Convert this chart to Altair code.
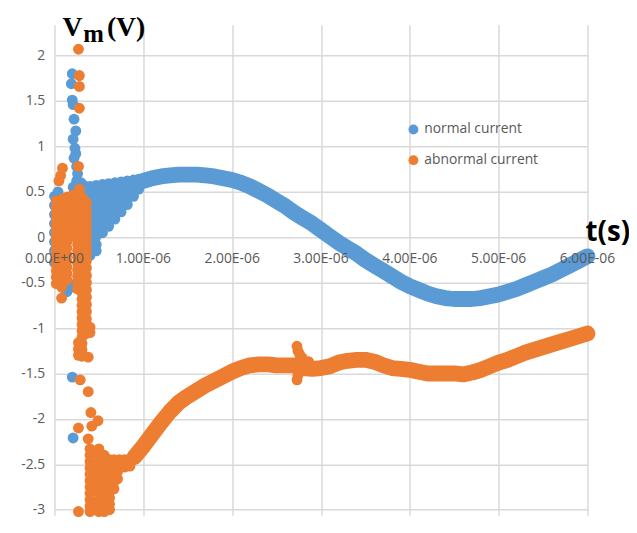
import altair as alt
import pandas as pd

SERIES = ["normal current", "abnormal current"]
COLORS = ["#5B9BD5", "#ED7D31"]

X_TICKS = [0, 1, 2, 3, 4, 5, 6]  # microseconds
X_TICK_LABELS = ["0.00E+00", "1.00E-06", "2.00E-06", "3.00E-06", "4.00E-06", "5.00E-06", "6.00E-06"]
Y_TICKS = [-3, -2.5, -2, -1.5, -1, -0.5, 0, 0.5, 1, 1.5, 2]

# ---- normal current (blue) ----
BLUE_MAIN_T = [1.0, 1.1, 1.2, 1.3, 1.4, 1.5, 1.6, 1.7, 1.8, 1.9, 2.0, 2.1, 2.2, 2.3, 2.4, 2.5, 2.6,
               2.7, 2.8, 2.9, 3.0, 3.1, 3.2, 3.3, 3.4, 3.5, 3.6, 3.7, 3.8, 3.9, 4.0, 4.1, 4.2, 4.3,
               4.4, 4.5, 4.6, 4.7, 4.8, 4.9, 5.0, 5.1, 5.2, 5.3, 5.4, 5.5, 5.6, 5.7, 5.8, 5.9, 6.0]
BLUE_MAIN_V = [0.62, 0.65, 0.67, 0.68, 0.69, 0.69, 0.69, 0.68, 0.67, 0.65, 0.63, 0.60, 0.56, 0.51,
               0.46, 0.40, 0.34, 0.27, 0.21, 0.15, 0.08, 0.01, -0.06, -0.12, -0.18, -0.25, -0.31,
               -0.37, -0.43, -0.49, -0.54, -0.58, -0.62, -0.65, -0.67, -0.68, -0.68, -0.68, -0.67,
               -0.65, -0.63, -0.60, -0.57, -0.53, -0.49, -0.45, -0.41, -0.36, -0.31, -0.26, -0.21]

BLUE_FAN_COLUMNS = [
    (0.33, [0.45, 0.30, 0.15, 0.00, -0.15]),
    (0.40, [0.56, 0.49, 0.42, 0.35, 0.28, 0.21, 0.14, 0.07, 0.00, -0.07, -0.14, -0.20]),
    (0.47, [0.57, 0.50, 0.43, 0.36, 0.29, 0.22, 0.15, 0.08, 0.01, -0.08, -0.15]),
    (0.54, [0.58, 0.51, 0.44, 0.37, 0.30, 0.23, 0.16, 0.09, 0.05]),
    (0.61, [0.59, 0.52, 0.45, 0.38, 0.31, 0.24, 0.17, 0.12]),
    (0.68, [0.60, 0.53, 0.46, 0.39, 0.32, 0.25, 0.20]),
    (0.75, [0.61, 0.54, 0.47, 0.40, 0.33, 0.28]),
    (0.82, [0.62, 0.55, 0.48, 0.42, 0.36]),
    (0.89, [0.63, 0.56, 0.50, 0.45]),
    (0.95, [0.64, 0.58, 0.53]),
]

BLUE_SCATTER_T = [0.20, 0.19, 0.20, 0.21, 0.22, 0.24, 0.21, 0.23, 0.24, 0.22, 0.25, 0.26, 0.25,
                  0.30, 0.28, 0.33, 0.21,
                  0.0, 0.0, 0.0, 0.0, 0.0, 0.0, 0.0, 0.0, 0.04, 0.05, 0.09, 0.14, 0.19, 0.22,
                  0.20, 0.21]
BLUE_SCATTER_V = [1.80, 1.69, 1.51, 1.46, 1.30, 1.17, 1.08, 0.98, 0.92, 0.87, 0.78, 0.70, 0.62,
                  0.60, 0.52, 0.57, 0.55,
                  0.45, 0.35, 0.25, 0.15, 0.05, -0.05, -0.15, -0.28, 0.50, -0.40, -0.55, -0.60,
                  -0.52, -0.55,
                  -1.54, -2.21]

# ---- abnormal current (orange) ----
ORANGE_MAIN_T = [0.9, 1.0, 1.1, 1.2, 1.3, 1.4, 1.5, 1.6, 1.7, 1.8, 1.9, 2.0, 2.1, 2.2, 2.3, 2.4,
                 2.5, 2.6, 2.7, 2.8, 2.9, 3.0, 3.1, 3.2, 3.3, 3.4, 3.5, 3.6, 3.7, 3.8, 3.9, 4.0,
                 4.1, 4.2, 4.3, 4.4, 4.5, 4.6, 4.7, 4.8, 4.9, 5.0, 5.1, 5.2, 5.3, 5.4, 5.5, 5.6,
                 5.7, 5.8, 5.9, 6.0]
ORANGE_MAIN_V = [-2.42, -2.30, -2.17, -2.04, -1.92, -1.82, -1.75, -1.69, -1.63, -1.58, -1.53,
                 -1.48, -1.44, -1.41, -1.40, -1.40, -1.41, -1.41, -1.41, -1.44, -1.45, -1.44,
                 -1.42, -1.38, -1.36, -1.35, -1.35, -1.37, -1.41, -1.44, -1.45, -1.46, -1.48,
                 -1.50, -1.50, -1.50, -1.50, -1.51, -1.49, -1.46, -1.42, -1.38, -1.35, -1.31,
                 -1.27, -1.24, -1.21, -1.18, -1.15, -1.12, -1.09, -1.06]

ORANGE_CLUSTER_COLUMNS = [
    (0.02, [0.40, 0.33, 0.26, 0.19, 0.12, 0.05, -0.02, -0.09, -0.16, -0.23, -0.30, -0.37, -0.44, -0.51]),
    (0.05, [0.36, 0.22, 0.08, -0.06, -0.20, -0.34, -0.48]),
    (0.08, [0.42, 0.35, 0.28, 0.21, 0.14, 0.07, 0.00, -0.07, -0.14, -0.21, -0.28, -0.35, -0.42, -0.49, -0.55]),
    (0.11, [0.40, 0.26, 0.12, -0.02, -0.16, -0.30, -0.44]),
    (0.14, [0.44, 0.37, 0.30, 0.23, 0.16, 0.09, 0.02, -0.05, -0.12, -0.19, -0.26, -0.33, -0.40, -0.47]),
    (0.20, [0.46, 0.39, 0.32, 0.25, 0.18, 0.11, 0.04]),
    (0.23, [0.42, 0.28, 0.14, 0.00]),
    (0.26, [0.48, 0.41, 0.34, 0.27, 0.20, 0.13, 0.06, -0.01, -0.08, -0.15, -0.22, -0.29, -0.36, -0.43, -0.50, -0.57]),
    (0.31, [0.44, 0.37, 0.30, 0.23, 0.16, 0.09, 0.02, -0.05, -0.12, -0.19, -0.26, -0.33, -0.40, -0.47,
            -0.54, -0.61, -0.68, -0.75, -0.82, -0.89, -0.96, -1.03, -1.10, -1.17, -1.24, -1.31]),
    (0.36, [0.38, 0.30, 0.22, 0.14, 0.06, -0.02, -0.10, -0.18, -0.26, -0.34, -0.42, -0.50, -0.58,
            -0.66, -0.74, -0.82, -0.90, -0.98, -1.06]),
    (0.27, [-1.16, -1.23, -1.30]),
    (0.40, [-0.99, -1.05]),
    (0.38, [-1.32]),
]

ORANGE_BLOCK_COLUMNS = [
    (0.40, [-2.33, -2.40, -2.47, -2.54, -2.61, -2.68, -2.75, -2.82, -2.89, -2.96, -3.02]),
    (0.45, [-2.36, -2.50, -2.64, -2.78, -2.92]),
    (0.50, [-2.33, -2.40, -2.47, -2.54, -2.61, -2.68, -2.75, -2.82, -2.89, -2.96, -3.02]),
    (0.56, [-2.40, -2.47, -2.54, -2.61, -2.68, -2.75, -2.82, -2.89, -2.96, -3.02]),
    (0.62, [-2.45, -2.52, -2.59, -2.66, -2.73, -2.80, -2.87, -2.94, -3.00]),
    (0.67, [-2.45, -2.53, -2.61, -2.69, -2.77]),
    (0.71, [-2.58, -2.66]),
    (0.73, [-2.45, -2.53]),
    (0.79, [-2.45, -2.53]),
    (0.85, [-2.44, -2.52]),
]

ORANGE_SCATTER_T = [0.09, 0.07, 0.05, 0.27, 0.27, 0.28, 0.28, 0.28, 0.28, 0.08, 0.29, 0.38, 0.41,
                    0.49, 0.42, 0.27, 0.38, 0.27,
                    2.73, 2.74, 2.76, 2.79, 2.73, 2.74, 2.76, 2.80, 2.83, 2.86, 2.77, 2.77, 2.80]
ORANGE_SCATTER_V = [0.76, 0.68, 0.62, 0.78, 2.07, 1.78, 1.66, 1.42, 0.53, -0.67, -1.57, -1.70,
                    -1.93, -2.02, -2.08, -2.10, -2.22, -3.02,
                    -1.20, -1.25, -1.29, -1.33, -1.57, -1.52, -1.48, -1.44, -1.40, -1.37, -1.36,
                    -1.42, -1.38]


def columns_to_lists(columns):
    ts, vs = [], []
    for t, vals in columns:
        ts.extend([t] * len(vals))
        vs.extend(vals)
    return ts, vs


rows = []


def add(ts, vs, series):
    assert len(ts) == len(vs)
    for t, v in zip(ts, vs):
        rows.append({"t": t, "v": v, "series": series})


add(BLUE_MAIN_T, BLUE_MAIN_V, SERIES[0])
add(*columns_to_lists(BLUE_FAN_COLUMNS), SERIES[0])
add(BLUE_SCATTER_T, BLUE_SCATTER_V, SERIES[0])
add(ORANGE_MAIN_T, ORANGE_MAIN_V, SERIES[1])
add(*columns_to_lists(ORANGE_CLUSTER_COLUMNS), SERIES[1])
add(*columns_to_lists(ORANGE_BLOCK_COLUMNS), SERIES[1])
add(ORANGE_SCATTER_T, ORANGE_SCATTER_V, SERIES[1])
points_df = pd.DataFrame(rows)

blue_line_df = pd.DataFrame({"t": BLUE_MAIN_T, "v": BLUE_MAIN_V})
orange_line_df = pd.DataFrame({"t": ORANGE_MAIN_T, "v": ORANGE_MAIN_V})
xlab_df = pd.DataFrame({"t": X_TICKS, "v": [0] * len(X_TICKS), "label": X_TICK_LABELS})

GRID = "#D9D9D9"
LABEL_COLOR = "#595959"
FONT = "Open Sans"


def X():
    return alt.X("t:Q", scale=alt.Scale(domain=[0, 6], nice=False, zero=False),
                 axis=alt.Axis(values=X_TICKS, labels=False, ticks=False, domain=False,
                               grid=True, gridColor=GRID, gridWidth=1.5, title=None))


def Y():
    return alt.Y("v:Q", scale=alt.Scale(domain=[-3.06, 2.34], nice=False, zero=False),
                 axis=alt.Axis(values=Y_TICKS, labelExpr="datum.value + ''", grid=True,
                               gridColor=GRID, gridWidth=1.5, domain=False, ticks=False,
                               labelPadding=10, title=None, labelFont=FONT, labelFontSize=14,
                               labelColor=LABEL_COLOR))


blue_line = alt.Chart(blue_line_df).mark_line(
    color=COLORS[0], strokeWidth=16, strokeCap="round", strokeJoin="round"
).encode(x=X(), y=Y())

orange_line = alt.Chart(orange_line_df).mark_line(
    color=COLORS[1], strokeWidth=16, strokeCap="round", strokeJoin="round"
).encode(x=X(), y=Y())

points = alt.Chart(points_df).mark_circle(size=121, opacity=1).encode(
    x=X(), y=Y(),
    color=alt.Color("series:N", scale=alt.Scale(domain=SERIES, range=COLORS),
                    legend=alt.Legend(title=None, orient="none", legendX=356, legendY=99,
                                      symbolType="circle", symbolSize=100, symbolStrokeWidth=0,
                                      symbolOpacity=1, labelFont=FONT, labelFontSize=14,
                                      labelColor=LABEL_COLOR, rowPadding=17, labelOffset=4,
                                      padding=0)),
)

xlabels = alt.Chart(xlab_df).mark_text(
    font=FONT, fontSize=14, color=LABEL_COLOR, dy=22, align="center", baseline="middle"
).encode(x=X(), y=Y(), text="label:N")


def title_text(s, x, y, size, font, weight="bold"):
    return alt.Chart(pd.DataFrame({"s": [s]})).mark_text(
        font=font, fontSize=size, fontWeight=weight, color="black",
        align="left", baseline="alphabetic"
    ).encode(x=alt.value(x), y=alt.value(y), text="s:N")


t_v = title_text("V", 8, 11, 28, "Liberation Serif")
t_m = title_text("m", 29, 17, 25, "Liberation Serif")
t_unit = title_text("(V)", 53, 11, 28, "Liberation Serif")
t_x = title_text("t(s)", 537, 219, 28, FONT)

chart = alt.layer(
    blue_line, orange_line, points, xlabels, t_v, t_m, t_unit, t_x
).properties(
    width=539, height=496,
    padding={"left": 47, "top": 14, "right": 42, "bottom": 2},
    autosize=alt.AutoSizeParams(type="none"),
).configure_view(stroke=None)

chart.save("out.html", embed_options={"renderer": "svg", "actions": False})
